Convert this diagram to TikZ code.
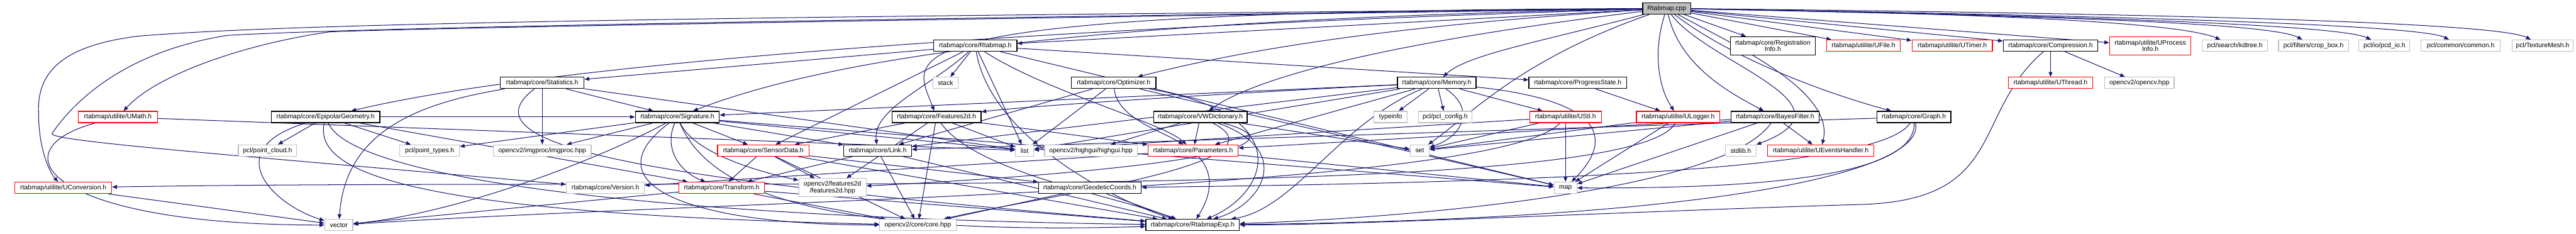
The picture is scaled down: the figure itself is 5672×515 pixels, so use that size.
\documentclass[tikz,border=0pt]{standalone}
\usepackage{fontspec}
\setmainfont{Liberation Sans}
\usetikzlibrary{arrows.meta,backgrounds}
\definecolor{eblue}{HTML}{191970}
\definecolor{lgr}{HTML}{BFBFBF}
\newcommand\nfont{\fontsize{4.1}{4.0}\selectfont}
\begin{document}
\begin{tikzpicture}[x=0.01cm, y=-0.01cm,
  box/.style={rectangle, draw, fill=white, line width=0.5pt, minimum height=0.25cm, inner sep=0pt, font=\nfont, align=center},
  nb/.style={box, draw=black},
  ng/.style={box, draw=lgr},
  nr/.style={box, draw=red},
  nroot/.style={box, draw=black, fill=lgr},
  tall/.style={minimum height=0.40cm},
  e/.style={draw=eblue, line width=0.4pt, -{Triangle[length=3pt,width=2.4pt]}}]
\useasboundingbox (0,0) rectangle (5672,515);
% row 0
\node[nroot, minimum width=1.06cm] (root) at (3670,18.5) {Rtabmap.cpp};
% row 1
\node[nb, minimum width=1.83cm] (rh) at (2147.5,100.5) {rtabmap/core/Rtabmap.h};
\node[nb, tall, minimum width=1.87cm] (reg) at (3903.5,101) {rtabmap/core/Registration\\Info.h};
\node[nr, minimum width=1.62cm] (ufile) at (4103,100.5) {rtabmap/utilite/UFile.h};
\node[nr, minimum width=1.77cm] (utimer) at (4298.5,100.5) {rtabmap/utilite/UTimer.h};
\node[nb, minimum width=2.08cm] (comp) at (4515,100.5) {rtabmap/core/Compression.h};
\node[nr, tall, minimum width=1.79cm] (uproc) at (4734.5,101) {rtabmap/utilite/UProcess\\Info.h};
\node[ng, minimum width=1.44cm] (kd) at (4921,100.5) {pcl/search/kdtree.h};
\node[ng, minimum width=1.54cm] (crop) at (5094,100.5) {pcl/filters/crop\_box.h};
\node[ng, minimum width=1.12cm] (pcd) at (5250,100.5) {pcl/io/pcd\_io.h};
\node[ng, minimum width=1.74cm] (common) at (5418,100.5) {pcl/common/common.h};
\node[ng, minimum width=1.35cm] (tex) at (5598.5,100.5) {pcl/TextureMesh.h};
% row 2
\node[nb, minimum width=1.84cm] (stat) at (1194,182.5) {rtabmap/core/Statistics.h};
\node[ng, minimum width=0.56cm] (stack) at (2082,182.5) {stack};
\node[nb, minimum width=1.86cm] (opt) at (2452,182.5) {rtabmap/core/Optimizer.h};
\node[nb, minimum width=1.73cm] (mem) at (3163.5,182.5) {rtabmap/core/Memory.h};
\node[nb, minimum width=2.15cm] (prog) at (3474,182.5) {rtabmap/core/ProgressState.h};
\node[nr, minimum width=1.86cm] (uthread) at (4515,182.5) {rtabmap/utilite/UThread.h};
\node[ng, minimum width=1.53cm] (ocv) at (4710.5,182.5) {opencv2/opencv.hpp};
% row 3
\node[nr, minimum width=1.74cm] (umath) at (259.6,257.5) {rtabmap/utilite/UMath.h};
\node[nb, minimum width=2.39cm] (epi) at (716.8,257.5) {rtabmap/core/EpipolarGeometry.h};
\node[nb, minimum width=1.85cm] (sig) at (1491.4,257.5) {rtabmap/core/Signature.h};
\node[nb, minimum width=1.96cm] (feat) at (2062,257.5) {rtabmap/core/Features2d.h};
\node[nb, minimum width=2.06cm] (vwd) at (2643,257.5) {rtabmap/core/VWDictionary.h};
\node[ng, minimum width=0.73cm] (typeinfo) at (3062,257.5) {typeinfo};
\node[ng, minimum width=1.18cm] (pclconf) at (3182,257.5) {pcl/pcl\_config.h};
\node[nr, minimum width=1.58cm] (ustl) at (3447,257.5) {rtabmap/utilite/UStl.h};
\node[nr, minimum width=1.84cm] (ulog) at (3695,257.5) {rtabmap/utilite/ULogger.h};
\node[nb, minimum width=1.93cm] (bayes) at (3908.4,257.5) {rtabmap/core/BayesFilter.h};
\node[nb, minimum width=1.63cm] (graph) at (4214,257.5) {rtabmap/core/Graph.h};
% row 4
\node[ng, minimum width=1.28cm] (pcloud) at (589,331.5) {pcl/point\_cloud.h};
\node[ng, minimum width=1.31cm] (ptypes) at (946,331.5) {pcl/point\_types.h};
\node[ng, minimum width=2.15cm] (imgproc) at (1194,331.5) {opencv2/imgproc/imgproc.hpp};
\node[nr, minimum width=2.01cm] (sd) at (1680.7,331.5) {rtabmap/core/SensorData.h};
\node[nb, minimum width=1.49cm] (link) at (1932.5,331.5) {rtabmap/core/Link.h};
\node[ng, minimum width=0.40cm] (list) at (2256,331.5) {list};
\node[ng, minimum width=2.04cm] (highgui) at (2402,331.5) {opencv2/highgui/highgui.hpp};
\node[nr, minimum width=1.98cm] (param) at (2627,331.5) {rtabmap/core/Parameters.h};
\node[ng, minimum width=0.42cm] (set) at (3126,331.5) {set};
\node[ng, minimum width=0.67cm] (stdlib) at (3833,331.5) {stdlib.h};
\node[nr, minimum width=2.34cm] (uev) at (4009,331.5) {rtabmap/utilite/UEventsHandler.h};
% row 5
\node[nr, minimum width=2.13cm] (uconv) at (139.4,413.5) {rtabmap/utilite/UConversion.h};
\node[ng, minimum width=1.72cm] (ver) at (1333,413.5) {rtabmap/core/Version.h};
\node[nr, minimum width=1.88cm] (tf) at (1589,413.5) {rtabmap/core/Transform.h};
\node[ng, tall, minimum width=1.48cm] (f2dhpp) at (1833,413) {opencv2/features2d\\/features2d.hpp};
\node[nb, minimum width=2.26cm] (geo) at (2399.6,413.5) {rtabmap/core/GeodeticCoords.h};
\node[ng, minimum width=0.50cm] (map) at (3447,413.5) {map};
% row 6
\node[ng, minimum width=0.62cm] (vector) at (746,495.5) {vector};
\node[ng, minimum width=1.68cm] (core) at (2021,495.5) {opencv2/core/core.hpp};
\node[nb, minimum width=2.06cm] (exp) at (2626,495.5) {rtabmap/core/RtabmapExp.h};

\begin{scope}[on background layer]
% root
\draw[e] (root) -- (rh);
\draw[e] (root) .. controls (2000,35) and (700,45) .. (300,80) .. controls (150,100) and (80,150) .. (85,250) .. controls (85,330) and (110,380) .. (uconv);
\draw[e] (root) .. controls (2000,40) and (800,60) .. (500,78) .. controls (300,110) and (180,200) .. (115,293) .. controls (95,310) and (500,340) .. (ver);
\draw[e] (root) .. controls (2200,40) and (1000,60) .. (727,70) .. controls (550,95) and (350,160) .. (umath);
\draw[e] (root) .. controls (2600,50) and (1300,120) .. (epi);
\draw[e] (root) .. controls (2600,40) and (1900,100) .. (sig);
\draw[e] (root) .. controls (1900,25) and (2010,120) .. (feat);
\draw[e] (root) .. controls (3000,60) and (2700,120) .. (opt);
\draw[e] (root) .. controls (3000,100) and (2750,180) .. (vwd);
\draw[e] (root) .. controls (3400,90) and (3230,120) .. (mem);
\draw[e] (root) .. controls (3350,130) and (3240,250) .. (set);
\draw[e] (root) .. controls (3640,110) and (3650,190) .. (ulog);
\draw[e] (root) .. controls (3700,150) and (3820,210) .. (bayes);
\draw[e] (root) .. controls (3800,120) and (4000,200) .. (graph);
\draw[e] (root) .. controls (3760,140) and (4100,230) .. (stdlib);
\draw[e] (root) .. controls (3820,100) and (4040,200) .. (uev);
\draw[e] (root) -- (reg);
\draw[e] (root) -- (ufile);
\draw[e] (root) -- (utimer);
\draw[e] (root) -- (comp);
\draw[e] (root) -- (uproc);
\draw[e] (root) .. controls (4400,30) and (4800,50) .. (kd);
\draw[e] (root) .. controls (4500,35) and (5000,50) .. (crop);
\draw[e] (root) .. controls (4600,35) and (5150,55) .. (pcd);
\draw[e] (root) .. controls (4700,35) and (5330,55) .. (common);
\draw[e] (root) .. controls (4800,30) and (5500,50) .. (tex);
% Rtabmap.h
\draw[e] (rh) -- (stack);
\draw[e] (rh) -- (list);
\draw[e] (rh) .. controls (2050,190) and (1920,240) .. (link);
\draw[e] (rh) -- (stat);
\draw[e] (rh) -- (prog);
\draw[e] (rh) .. controls (2300,200) and (2560,270) .. (param);
\draw[e] (rh) -- (sd);
\draw[e] (rh) .. controls (2180,300) and (2450,440) .. (exp);
\draw[e] (rh) -- (map);
% Statistics.h
\draw[e] (stat) -- (sig);
\draw[e] (stat) -- (imgproc);
\draw[e] (stat) -- (list);
\draw[e] (stat) .. controls (900,230) and (760,300) .. (vector);
\draw[e] (stat) .. controls (1000,330) and (1500,400) .. (exp);
% Signature.h
\draw[e] (sig) -- (ptypes);
\draw[e] (sig) -- (imgproc);
\draw[e] (sig) -- (sd);
\draw[e] (sig) .. controls (1460,330) and (1500,380) .. (tf);
\draw[e] (sig) .. controls (1530,340) and (1680,380) .. (f2dhpp);
\draw[e] (sig) .. controls (1300,360) and (1000,470) .. (vector);
\draw[e] (sig) .. controls (1300,400) and (1500,495) .. (core);
\draw[e] (sig) .. controls (1560,420) and (1800,520) .. (exp);
\draw[e] (sig) -- (link);
\draw[e] (sig) -- (list);
\draw[e] (sig) -- (map);
% SensorData.h
\draw[e] (sd) -- (tf);
\draw[e] (sd) -- (f2dhpp);
\draw[e] (sd) -- (exp);
\draw[e] (sd) -- (core);
\draw[e] (sd) -- (geo);
% Transform.h
\draw[e] (tf) -- (core);
\draw[e] (tf) -- (exp);
\draw[e] (tf) -- (vector);
% Link.h
\draw[e] (link) -- (tf);
\draw[e] (link) -- (core);
\draw[e] (link) -- (exp);
% Features2d.h
\draw[e] (feat) -- (param);
\draw[e] (feat) -- (list);
\draw[e] (feat) -- (f2dhpp);
\draw[e] (feat) -- (core);
\draw[e] (feat) -- (sd);
\draw[e] (feat) .. controls (2150,380) and (2450,430) .. (exp);
% VWDictionary.h
\draw[e] (vwd) -- (param);
\draw[e] (vwd) -- (highgui);
\draw[e] (vwd) .. controls (2950,340) and (2300,390) .. (f2dhpp);
\draw[e] (vwd) .. controls (2850,360) and (2300,430) .. (core);
\draw[e] (vwd) .. controls (2850,330) and (2780,450) .. (exp);
\draw[e] (vwd) -- (set);
% Optimizer.h
\draw[e] (opt) -- (list);
\draw[e] (opt) .. controls (2460,260) and (2560,290) .. (param);
\draw[e] (opt) -- (link);
\draw[e] (opt) -- (map);
\draw[e] (opt) .. controls (2850,250) and (2800,420) .. (exp);
% Parameters.h
\draw[e] (param) .. controls (2680,390) and (2660,440) .. (exp);
\draw[e] (param) -- (ver);
\draw[e] (param) -- (map);
% GeodeticCoords.h
\draw[e] (geo) -- (core);
\draw[e] (geo) -- (exp);
% Memory.h
\draw[e] (mem) -- (typeinfo);
\draw[e] (mem) -- (pclconf);
\draw[e] (mem) -- (ustl);
\draw[e] (mem) .. controls (3250,240) and (3220,300) .. (set);
\draw[e] (mem) .. controls (3520,220) and (3560,300) .. (map);
\draw[e] (mem) -- (sig);
\draw[e] (mem) -- (param);
\draw[e] (mem) .. controls (2800,200) and (2300,230) .. (feat);
\draw[e] (mem) -- (list);
\draw[e] (mem) -- (link);
\draw[e] (mem) .. controls (2950,270) and (2850,460) .. (exp);
% UStl.h
\draw[e] (ustl) -- (map);
\draw[e] (ustl) -- (set);
\draw[e] (ustl) -- (list);
\draw[e] (ustl) .. controls (3300,420) and (1600,440) .. (vector);
% ULogger.h
\draw[e] (ulog) -- (map);
\draw[e] (ulog) -- (set);
\draw[e] (ulog) .. controls (3600,450) and (1500,390) .. (uconv);
% ProgressState.h
\draw[e] (prog) -- (ulog);
% BayesFilter.h
\draw[e] (bayes) -- (uev);
\draw[e] (bayes) -- (param);
\draw[e] (bayes) .. controls (3800,420) and (3100,480) .. (exp);
\draw[e] (bayes) -- (map);
\draw[e] (bayes) -- (set);
% Graph.h
\draw[e] (graph) .. controls (4150,360) and (3600,400) .. (geo);
\draw[e] (graph) .. controls (4220,400) and (3800,415) .. (map);
\draw[e] (graph) .. controls (4240,360) and (3900,480) .. (exp);
\draw[e] (graph) -- (link);
% Compression.h
\draw[e] (comp) -- (uthread);
\draw[e] (comp) -- (ocv);
\draw[e] (comp) .. controls (4340,250) and (4420,440) .. (4100,450) .. controls (3600,465) and (3000,495) .. (exp);
% EpipolarGeometry.h
\draw[e] (epi) -- (pcloud);
\draw[e] (epi) -- (ptypes);
\draw[e] (epi) .. controls (480,330) and (600,450) .. (vector);
\draw[e] (epi) .. controls (690,380) and (900,470) .. (core);
\draw[e] (epi) .. controls (780,400) and (1500,480) .. (exp);
\draw[e] (epi) -- (sig);
\draw[e] (epi) -- (tf);
% UMath.h, UConversion.h
\draw[e] (umath) .. controls (-10,330) and (100,495) .. (vector);
\draw[e] (umath) -- (list);
\draw[e] (uconv) -- (vector);
\end{scope}
\end{tikzpicture}
\end{document}
